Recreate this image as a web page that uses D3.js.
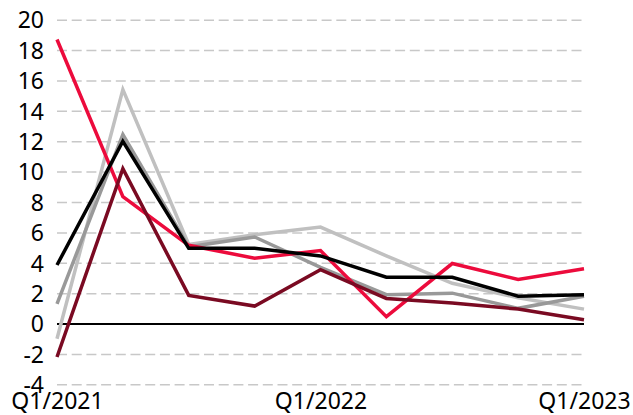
<!DOCTYPE html>
<html>
<head>
<meta charset="utf-8">
<script src="https://cdn.jsdelivr.net/npm/d3@7"></script>
<style>
  body { margin: 0; background: #fff; }
  svg text { font-family: "Noto Sans", sans-serif; font-size: 23px; fill: #000; }
</style>
</head>
<body>
<div id="chart"></div>
<script>
// quarters on the x axis
const quarters = ["Q1/2021", "Q2/2021", "Q3/2021", "Q4/2021", "Q1/2022",
                  "Q2/2022", "Q3/2022", "Q4/2022", "Q1/2023"];
const xTickLabels = ["Q1/2021", "Q1/2022", "Q1/2023"];
const yTicks = [-4, -2, 0, 2, 4, 6, 8, 10, 12, 14, 16, 18, 20];

// series values
const lightGrey = [-1.0, 15.4, 5.2, 5.85, 6.35, 4.45, 2.65, 1.7, 0.95];
const darkGrey  = [1.3, 12.45, 5.05, 5.7, 3.7, 1.9, 2.0, 1.0, 1.8];
const red       = [18.7, 8.35, 5.15, 4.3, 4.8, 0.45, 3.95, 2.9, 3.6];
const darkRed   = [-2.2, 10.2, 1.85, 1.15, 3.55, 1.65, 1.35, 0.95, 0.25];
const black     = [3.85, 12.0, 4.95, 4.95, 4.45, 3.05, 3.05, 1.8, 1.9];

const series = [
    {name: "lightGrey", values: lightGrey, color: "#c0c0c0"},
    {name: "darkGrey", values: darkGrey, color: "#999999"},
    {name: "red", values: red, color: "#ec0b3c"},
    {name: "darkRed", values: darkRed, color: "#7a0a22"},
    {name: "black", values: black, color: "#000000"}
];

const W = 633, H = 415;
const margin = {top: 19.7, right: 49, bottom: 30.7, left: 57};
const width = W - margin.left - margin.right;
const height = H - margin.top - margin.bottom;

const svg = d3.select("#chart").append("svg")
    .attr("width", W)
    .attr("height", H)
    .append("g")
    .attr("transform", "translate(" + margin.left + "," + margin.top + ")");

const x = d3.scalePoint().domain(quarters).range([0, width]);
const y = d3.scaleLinear().domain([-4, 20]).range([height, 0]);

// y axis with dashed gridlines
const yAxis = svg.append("g")
    .attr("class", "y axis")
    .call(d3.axisLeft(y).tickValues(yTicks).tickSize(-width).tickPadding(13)
        .tickFormat(d3.format("d")));
yAxis.select(".domain").remove();
yAxis.selectAll(".tick line")
    .attr("stroke", "#c8c8c8")
    .attr("stroke-width", 1.5)
    .attr("stroke-dasharray", "10,4.7");
yAxis.selectAll(".tick text").attr("dy", "0.36em");
yAxis.selectAll(".tick")
    .filter(d => d === 0)
    .select("line")
    .attr("stroke", "#000")
    .attr("stroke-width", 2)
    .attr("stroke-dasharray", null);
yAxis.selectAll(".tick text").text(d => d < 0 ? "-" + Math.abs(d) : d);

// x axis, only the Q1 labels
const xAxis = svg.append("g")
    .attr("class", "x axis")
    .attr("transform", "translate(0," + height + ")")
    .call(d3.axisBottom(x).tickValues(xTickLabels).tickSize(0).tickPadding(8));
xAxis.select(".domain").remove();

const line = d3.line()
    .x((d, i) => x(quarters[i]))
    .y(d => y(d));

svg.selectAll(".series")
    .data(series)
    .enter().append("path")
    .attr("class", "series")
    .attr("fill", "none")
    .attr("stroke", d => d.color)
    .attr("stroke-width", 3.5)
    .attr("stroke-linejoin", "miter")
    .attr("d", d => line(d.values));
</script>
</body>
</html>
